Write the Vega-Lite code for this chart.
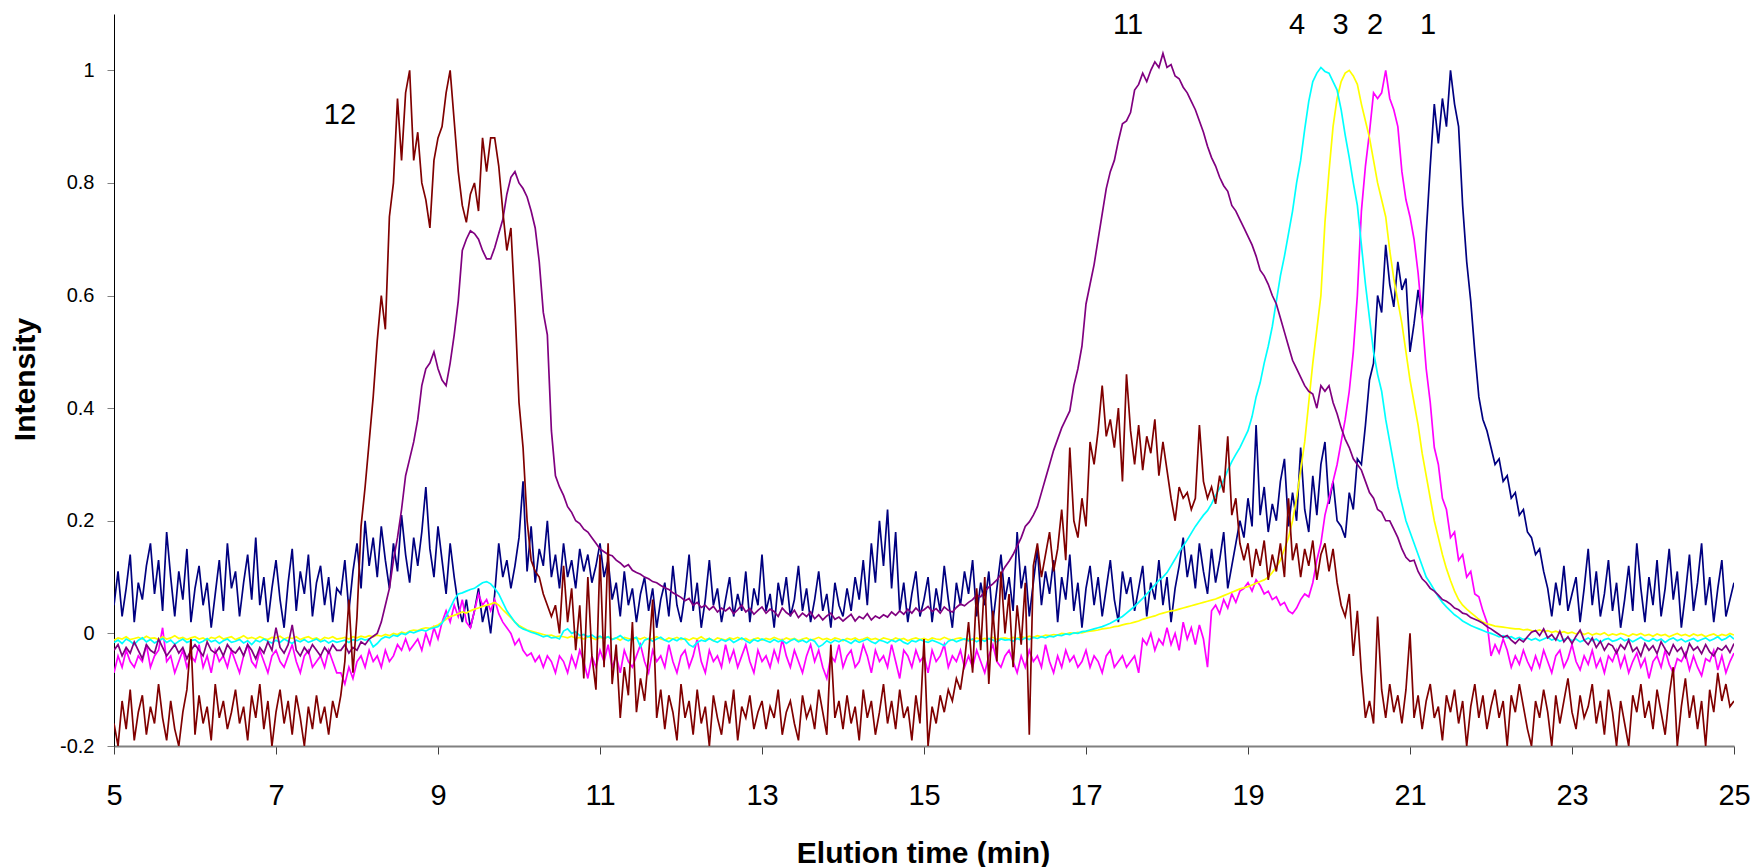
{
"$schema": "https://vega.github.io/schema/vega-lite/v6.json",
"width": 1620,
"height": 732,
"autosize": {"type": "none"},
"padding": {"left": 114, "top": 14, "right": 18, "bottom": 121},
"background": "#ffffff",
"config": {"view": {"stroke": null}, "font": "Liberation Sans", "axis": {"grid": false}},
"encoding": {
"x": {"field": "t", "type": "quantitative",
"scale": {"domain": [5, 25], "nice": false, "zero": false},
"axis": {"values": [5, 7, 9, 11, 13, 15, 17, 19, 21, 23, 25], "labelExpr": "'' + datum.value",
"title": "Elution time (min)", "titleFontSize": 30, "titleFontWeight": "bold", "titleColor": "#000000",
"titleAlign": "center", "titleBaseline": "alphabetic", "titleX": 809, "titleY": 116,
"labelFontSize": 29, "labelColor": "#000000", "labelBaseline": "alphabetic", "labelPadding": 50,
"labelFlush": false, "labelOverlap": false, "tickSize": 8, "tickColor": "#404040", "tickWidth": 1,
"domainColor": "#808080", "domainWidth": 2, "grid": false}},
"y": {"field": "v", "type": "quantitative",
"scale": {"domain": [-0.2, 1.1], "nice": false, "zero": false},
"axis": {"values": [-0.2, 0, 0.2, 0.4, 0.6, 0.8, 1], "labelExpr": "'' + datum.value",
"title": "Intensity", "titleFontSize": 30, "titleFontWeight": "bold", "titleColor": "#000000",
"titleAngle": 270, "titleAlign": "center", "titleBaseline": "alphabetic", "titleX": -80, "titleY": 365,
"labelFontSize": 20, "labelColor": "#000000", "labelPadding": 13, "labelFlush": false, "labelOverlap": false,
"tickSize": 7, "tickColor": "#808080", "tickWidth": 1, "domainColor": "#000000", "domainWidth": 1, "grid": false}}
},
"layer": [
{
"data": {"values": [
{"t":5.00,"a":0.05,"b":-0.07,"c":-0.012,"d":-0.016,"e":-0.03,"f":-0.16},
{"t":5.05,"a":0.11,"b":-0.04,"c":-0.008,"d":-0.012,"e":-0.02,"f":-0.2},
{"t":5.10,"a":0.03,"b":-0.06,"c":-0.01,"d":-0.018,"e":-0.04,"f":-0.12},
{"t":5.15,"a":0.08,"b":-0.03,"c":-0.006,"d":-0.01,"e":-0.025,"f":-0.17},
{"t":5.20,"a":0.14,"b":-0.05,"c":-0.011,"d":-0.014,"e":-0.035,"f":-0.1},
{"t":5.25,"a":0.02,"b":-0.06,"c":-0.009,"d":-0.02,"e":-0.015,"f":-0.19},
{"t":5.30,"a":0.09,"b":-0.04,"c":-0.007,"d":-0.012,"e":-0.03,"f":-0.14},
{"t":5.35,"a":0.06,"b":-0.05,"c":-0.01,"d":-0.008,"e":-0.045,"f":-0.11},
{"t":5.40,"a":0.12,"b":-0.02,"c":-0.005,"d":-0.015,"e":-0.02,"f":-0.18},
{"t":5.45,"a":0.16,"b":-0.06,"c":-0.009,"d":-0.011,"e":-0.03,"f":-0.13},
{"t":5.50,"a":0.07,"b":-0.04,"c":-0.008,"d":-0.017,"e":-0.035,"f":-0.16},
{"t":5.55,"a":0.13,"b":-0.03,"c":-0.011,"d":-0.013,"e":-0.01,"f":-0.09},
{"t":5.60,"a":0.04,"b":0.01,"c":-0.006,"d":-0.009,"e":-0.025,"f":-0.15},
{"t":5.65,"a":0.18,"b":-0.05,"c":-0.01,"d":-0.016,"e":-0.04,"f":-0.19},
{"t":5.70,"a":0.10,"b":-0.04,"c":-0.008,"d":-0.012,"e":-0.03,"f":-0.12},
{"t":5.75,"a":0.03,"b":-0.07,"c":-0.004,"d":-0.019,"e":-0.02,"f":-0.17},
{"t":5.80,"a":0.11,"b":-0.05,"c":-0.009,"d":-0.014,"e":-0.035,"f":-0.2},
{"t":5.85,"a":0.06,"b":-0.03,"c":-0.007,"d":-0.01,"e":-0.025,"f":-0.14},
{"t":5.90,"a":0.15,"b":-0.06,"c":-0.011,"d":-0.016,"e":-0.045,"f":-0.1},
{"t":5.95,"a":0.02,"b":-0.04,"c":-0.008,"d":-0.013,"e":-0.03,"f":-0.01},
{"t":6.00,"a":0.08,"b":-0.05,"c":-0.006,"d":-0.011,"e":-0.02,"f":-0.18},
{"t":6.05,"a":0.12,"b":-0.02,"c":-0.01,"d":-0.017,"e":-0.03,"f":-0.11},
{"t":6.10,"a":0.05,"b":-0.06,"c":-0.008,"d":-0.014,"e":-0.04,"f":-0.16},
{"t":6.15,"a":0.09,"b":-0.04,"c":-0.012,"d":-0.009,"e":-0.015,"f":-0.13},
{"t":6.20,"a":0.01,"b":-0.07,"c":-0.007,"d":-0.015,"e":-0.03,"f":-0.19},
{"t":6.25,"a":0.07,"b":-0.03,"c":-0.009,"d":-0.012,"e":-0.035,"f":-0.09},
{"t":6.30,"a":0.13,"b":-0.05,"c":-0.005,"d":-0.018,"e":-0.025,"f":-0.15},
{"t":6.35,"a":0.04,"b":-0.04,"c":-0.01,"d":-0.013,"e":-0.04,"f":-0.12},
{"t":6.40,"a":0.16,"b":-0.06,"c":-0.008,"d":-0.01,"e":-0.02,"f":-0.17},
{"t":6.45,"a":0.08,"b":-0.03,"c":-0.006,"d":-0.016,"e":-0.03,"f":-0.14},
{"t":6.50,"a":0.11,"b":-0.05,"c":-0.011,"d":-0.014,"e":-0.035,"f":-0.1},
{"t":6.55,"a":0.03,"b":-0.07,"c":-0.008,"d":-0.011,"e":-0.025,"f":-0.16},
{"t":6.60,"a":0.09,"b":-0.04,"c":-0.004,"d":-0.017,"e":-0.04,"f":-0.13},
{"t":6.65,"a":0.14,"b":-0.02,"c":-0.009,"d":-0.013,"e":-0.02,"f":-0.19},
{"t":6.70,"a":0.06,"b":-0.05,"c":-0.007,"d":-0.02,"e":-0.03,"f":-0.11},
{"t":6.75,"a":0.17,"b":-0.06,"c":-0.01,"d":-0.012,"e":-0.045,"f":-0.15},
{"t":6.80,"a":0.05,"b":-0.03,"c":-0.006,"d":-0.015,"e":-0.025,"f":-0.09},
{"t":6.85,"a":0.10,"b":-0.05,"c":-0.009,"d":-0.01,"e":-0.035,"f":-0.17},
{"t":6.90,"a":0.02,"b":-0.07,"c":-0.011,"d":-0.014,"e":-0.015,"f":-0.12},
{"t":6.95,"a":0.08,"b":-0.04,"c":-0.007,"d":-0.017,"e":-0.03,"f":-0.2},
{"t":7.00,"a":0.13,"b":-0.03,"c":-0.008,"d":-0.012,"e":0.01,"f":-0.14},
{"t":7.05,"a":0.06,"b":-0.05,"c":-0.005,"d":-0.016,"e":-0.025,"f":-0.1},
{"t":7.10,"a":0.01,"b":-0.06,"c":-0.01,"d":-0.01,"e":-0.035,"f":-0.16},
{"t":7.15,"a":0.09,"b":-0.04,"c":-0.007,"d":-0.014,"e":-0.02,"f":-0.12},
{"t":7.20,"a":0.15,"b":-0.02,"c":-0.009,"d":-0.018,"e":0.015,"f":-0.18},
{"t":7.25,"a":0.04,"b":-0.05,"c":-0.006,"d":-0.012,"e":-0.03,"f":-0.11},
{"t":7.30,"a":0.11,"b":-0.07,"c":-0.011,"d":-0.015,"e":-0.04,"f":-0.15},
{"t":7.35,"a":0.07,"b":-0.04,"c":-0.008,"d":-0.011,"e":-0.025,"f":-0.2},
{"t":7.40,"a":0.14,"b":-0.03,"c":-0.006,"d":-0.016,"e":-0.035,"f":-0.13},
{"t":7.45,"a":0.03,"b":-0.06,"c":-0.01,"d":-0.013,"e":-0.02,"f":-0.17},
{"t":7.50,"a":0.09,"b":-0.05,"c":-0.008,"d":-0.01,"e":-0.03,"f":-0.11},
{"t":7.55,"a":0.12,"b":-0.04,"c":-0.012,"d":-0.015,"e":-0.04,"f":-0.16},
{"t":7.60,"a":0.05,"b":-0.06,"c":-0.007,"d":-0.012,"e":-0.025,"f":-0.13},
{"t":7.65,"a":0.10,"b":-0.03,"c":-0.009,"d":-0.017,"e":-0.035,"f":-0.18},
{"t":7.70,"a":0.02,"b":-0.05,"c":-0.006,"d":-0.013,"e":-0.02,"f":-0.12},
{"t":7.75,"a":0.08,"b":-0.07,"c":-0.01,"d":-0.016,"e":-0.03,"f":-0.15},
{"t":7.80,"a":0.07,"b":-0.07,"c":-0.009,"d":-0.014,"e":-0.03,"f":-0.11},
{"t":7.85,"a":0.13,"b":-0.09,"c":-0.007,"d":-0.012,"e":-0.02,"f":-0.05},
{"t":7.90,"a":0.04,"b":-0.06,"c":-0.01,"d":-0.016,"e":-0.035,"f":0.06},
{"t":7.95,"a":0.11,"b":-0.08,"c":-0.006,"d":-0.011,"e":-0.025,"f":-0.07},
{"t":8.00,"a":0.16,"b":-0.05,"c":-0.008,"d":-0.013,"e":-0.03,"f":0.03},
{"t":8.05,"a":0.08,"b":-0.04,"c":-0.005,"d":-0.009,"e":-0.015,"f":0.19},
{"t":8.10,"a":0.2,"b":-0.06,"c":-0.007,"d":-0.012,"e":-0.02,"f":0.26},
{"t":8.15,"a":0.12,"b":-0.03,"c":-0.004,"d":-0.01,"e":-0.01,"f":0.34},
{"t":8.20,"a":0.17,"b":-0.05,"c":-0.006,"d":-0.024,"e":-0.005,"f":0.42},
{"t":8.25,"a":0.1,"b":-0.04,"c":-0.003,"d":-0.018,"e":0.0,"f":0.52},
{"t":8.30,"a":0.19,"b":-0.06,"c":-0.005,"d":-0.01,"e":0.02,"f":0.6},
{"t":8.35,"a":0.13,"b":-0.03,"c":-0.002,"d":-0.006,"e":0.05,"f":0.54},
{"t":8.40,"a":0.08,"b":-0.05,"c":-0.004,"d":-0.008,"e":0.08,"f":0.74},
{"t":8.45,"a":0.16,"b":-0.04,"c":0.0,"d":-0.003,"e":0.13,"f":0.8},
{"t":8.50,"a":0.11,"b":-0.02,"c":-0.002,"d":-0.005,"e":0.17,"f":0.95},
{"t":8.55,"a":0.21,"b":-0.03,"c":0.002,"d":0.0,"e":0.22,"f":0.84},
{"t":8.60,"a":0.14,"b":-0.01,"c":0.0,"d":-0.002,"e":0.28,"f":0.96},
{"t":8.65,"a":0.09,"b":-0.03,"c":0.004,"d":0.003,"e":0.31,"f":1.0},
{"t":8.70,"a":0.17,"b":-0.02,"c":0.006,"d":0.001,"e":0.34,"f":0.84},
{"t":8.75,"a":0.12,"b":-0.01,"c":0.005,"d":0.004,"e":0.38,"f":0.89},
{"t":8.80,"a":0.18,"b":-0.03,"c":0.008,"d":0.006,"e":0.44,"f":0.8},
{"t":8.85,"a":0.26,"b":0.0,"c":0.01,"d":0.004,"e":0.47,"f":0.77},
{"t":8.90,"a":0.15,"b":-0.02,"c":0.009,"d":0.008,"e":0.48,"f":0.72},
{"t":8.95,"a":0.1,"b":0.01,"c":0.012,"d":0.01,"e":0.5,"f":0.84},
{"t":9.00,"a":0.19,"b":-0.01,"c":0.015,"d":0.012,"e":0.47,"f":0.88},
{"t":9.05,"a":0.13,"b":0.02,"c":0.02,"d":0.018,"e":0.45,"f":0.9},
{"t":9.10,"a":0.07,"b":0.04,"c":0.025,"d":0.03,"e":0.44,"f":0.96},
{"t":9.15,"a":0.16,"b":0.02,"c":0.03,"d":0.045,"e":0.48,"f":1.0},
{"t":9.20,"a":0.1,"b":0.05,"c":0.032,"d":0.06,"e":0.53,"f":0.91},
{"t":9.25,"a":0.05,"b":0.03,"c":0.035,"d":0.07,"e":0.59,"f":0.82},
{"t":9.30,"a":0.02,"b":0.06,"c":0.038,"d":0.072,"e":0.68,"f":0.76},
{"t":9.35,"a":0.06,"b":0.02,"c":0.036,"d":0.075,"e":0.7,"f":0.73},
{"t":9.40,"a":0.01,"b":0.01,"c":0.04,"d":0.078,"e":0.715,"f":0.78},
{"t":9.45,"a":0.04,"b":0.04,"c":0.043,"d":0.08,"e":0.71,"f":0.8},
{"t":9.50,"a":0.08,"b":0.07,"c":0.045,"d":0.085,"e":0.7,"f":0.75},
{"t":9.55,"a":0.02,"b":0.05,"c":0.048,"d":0.09,"e":0.68,"f":0.88},
{"t":9.60,"a":0.05,"b":0.06,"c":0.05,"d":0.092,"e":0.665,"f":0.82},
{"t":9.65,"a":0.0,"b":0.04,"c":0.052,"d":0.088,"e":0.665,"f":0.88},
{"t":9.70,"a":0.07,"b":0.06,"c":0.055,"d":0.08,"e":0.685,"f":0.88},
{"t":9.75,"a":0.16,"b":0.035,"c":0.05,"d":0.07,"e":0.71,"f":0.83},
{"t":9.80,"a":0.1,"b":0.02,"c":0.042,"d":0.055,"e":0.735,"f":0.75},
{"t":9.85,"a":0.13,"b":0.01,"c":0.035,"d":0.04,"e":0.78,"f":0.68},
{"t":9.90,"a":0.08,"b":0.0,"c":0.028,"d":0.03,"e":0.81,"f":0.72},
{"t":9.95,"a":0.12,"b":-0.02,"c":0.02,"d":0.02,"e":0.82,"f":0.58},
{"t":10.00,"a":0.17,"b":-0.01,"c":0.014,"d":0.012,"e":0.8,"f":0.41},
{"t":10.05,"a":0.27,"b":-0.03,"c":0.01,"d":0.008,"e":0.79,"f":0.33},
{"t":10.10,"a":0.11,"b":-0.04,"c":0.006,"d":0.005,"e":0.775,"f":0.2},
{"t":10.15,"a":0.19,"b":-0.035,"c":0.004,"d":0.002,"e":0.75,"f":0.13},
{"t":10.20,"a":0.09,"b":-0.05,"c":0.002,"d":0.0,"e":0.72,"f":0.11},
{"t":10.25,"a":0.15,"b":-0.04,"c":0.0,"d":-0.003,"e":0.66,"f":0.1},
{"t":10.30,"a":0.12,"b":-0.06,"c":-0.002,"d":-0.006,"e":0.57,"f":0.07},
{"t":10.35,"a":0.2,"b":-0.04,"c":-0.004,"d":-0.004,"e":0.53,"f":0.05},
{"t":10.40,"a":0.1,"b":-0.05,"c":-0.003,"d":-0.008,"e":0.36,"f":0.03},
{"t":10.45,"a":0.14,"b":-0.07,"c":-0.006,"d":-0.007,"e":0.28,"f":0.05},
{"t":10.50,"a":0.08,"b":-0.04,"c":-0.005,"d":-0.01,"e":0.26,"f":0.0},
{"t":10.55,"a":0.16,"b":-0.05,"c":-0.006,"d":0.004,"e":0.245,"f":0.12},
{"t":10.60,"a":0.1,"b":-0.07,"c":-0.008,"d":0.008,"e":0.225,"f":0.02},
{"t":10.65,"a":0.13,"b":-0.04,"c":-0.005,"d":0.0,"e":0.215,"f":0.08},
{"t":10.70,"a":0.08,"b":-0.06,"c":-0.009,"d":0.003,"e":0.2,"f":-0.03},
{"t":10.75,"a":0.15,"b":-0.03,"c":-0.007,"d":-0.004,"e":0.195,"f":0.05},
{"t":10.80,"a":0.11,"b":-0.05,"c":-0.01,"d":-0.002,"e":0.185,"f":-0.08},
{"t":10.85,"a":0.14,"b":-0.08,"c":-0.006,"d":-0.006,"e":0.18,"f":0.1},
{"t":10.90,"a":0.09,"b":-0.04,"c":-0.008,"d":-0.003,"e":0.17,"f":-0.04},
{"t":10.95,"a":0.12,"b":-0.06,"c":-0.011,"d":-0.008,"e":0.16,"f":-0.1},
{"t":11.00,"a":0.16,"b":-0.03,"c":-0.007,"d":-0.005,"e":0.15,"f":0.14},
{"t":11.05,"a":0.1,"b":-0.05,"c":-0.009,"d":-0.009,"e":0.145,"f":-0.06},
{"t":11.10,"a":0.13,"b":-0.02,"c":-0.006,"d":-0.006,"e":0.14,"f":0.16},
{"t":11.15,"a":0.06,"b":-0.06,"c":-0.01,"d":-0.011,"e":0.138,"f":-0.09},
{"t":11.20,"a":0.09,"b":-0.04,"c":-0.008,"d":-0.008,"e":0.13,"f":-0.02},
{"t":11.25,"a":0.03,"b":-0.07,"c":-0.012,"d":-0.004,"e":0.125,"f":-0.15},
{"t":11.30,"a":0.11,"b":-0.03,"c":-0.007,"d":-0.01,"e":0.118,"f":-0.06},
{"t":11.35,"a":0.05,"b":-0.05,"c":-0.009,"d":-0.013,"e":0.122,"f":-0.11},
{"t":11.40,"a":0.08,"b":-0.06,"c":-0.011,"d":-0.009,"e":0.112,"f":0.02},
{"t":11.45,"a":0.02,"b":-0.04,"c":-0.008,"d":-0.007,"e":0.108,"f":-0.14},
{"t":11.50,"a":0.07,"b":-0.02,"c":-0.01,"d":-0.024,"e":0.105,"f":-0.08},
{"t":11.55,"a":0.1,"b":-0.05,"c":-0.007,"d":-0.012,"e":0.1,"f":-0.12},
{"t":11.60,"a":0.04,"b":-0.07,"c":-0.011,"d":-0.009,"e":0.097,"f":-0.04},
{"t":11.65,"a":0.08,"b":-0.03,"c":-0.009,"d":-0.014,"e":0.092,"f":0.06},
{"t":11.70,"a":0.01,"b":-0.05,"c":-0.006,"d":-0.01,"e":0.09,"f":-0.15},
{"t":11.75,"a":0.06,"b":-0.04,"c":-0.01,"d":-0.007,"e":0.085,"f":-0.1},
{"t":11.80,"a":0.09,"b":-0.06,"c":-0.012,"d":-0.012,"e":0.081,"f":-0.17},
{"t":11.85,"a":0.03,"b":-0.02,"c":-0.008,"d":-0.015,"e":0.078,"f":-0.11},
{"t":11.90,"a":0.12,"b":-0.05,"c":-0.01,"d":-0.01,"e":0.072,"f":-0.14},
{"t":11.95,"a":0.05,"b":-0.07,"c":-0.007,"d":-0.013,"e":0.068,"f":-0.19},
{"t":12.00,"a":0.02,"b":-0.04,"c":-0.011,"d":-0.008,"e":0.064,"f":-0.09},
{"t":12.05,"a":0.07,"b":-0.03,"c":-0.009,"d":-0.011,"e":0.058,"f":-0.15},
{"t":12.10,"a":0.14,"b":-0.06,"c":-0.012,"d":-0.02,"e":0.062,"f":-0.12},
{"t":12.15,"a":0.04,"b":-0.04,"c":-0.008,"d":-0.024,"e":0.05,"f":-0.18},
{"t":12.20,"a":0.09,"b":-0.01,"c":-0.01,"d":-0.016,"e":0.055,"f":-0.1},
{"t":12.25,"a":0.01,"b":-0.05,"c":-0.006,"d":-0.012,"e":0.046,"f":-0.16},
{"t":12.30,"a":0.06,"b":-0.07,"c":-0.011,"d":-0.014,"e":0.05,"f":-0.13},
{"t":12.35,"a":0.13,"b":-0.03,"c":-0.009,"d":-0.009,"e":0.042,"f":-0.2},
{"t":12.40,"a":0.05,"b":-0.05,"c":-0.013,"d":-0.013,"e":0.048,"f":-0.11},
{"t":12.45,"a":0.08,"b":-0.04,"c":-0.008,"d":-0.016,"e":0.038,"f":-0.15},
{"t":12.50,"a":0.02,"b":-0.06,"c":-0.01,"d":-0.011,"e":0.045,"f":-0.18},
{"t":12.55,"a":0.06,"b":-0.02,"c":-0.012,"d":-0.014,"e":0.04,"f":-0.12},
{"t":12.60,"a":0.1,"b":-0.05,"c":-0.008,"d":-0.01,"e":0.046,"f":-0.16},
{"t":12.65,"a":0.03,"b":-0.03,"c":-0.01,"d":-0.016,"e":0.035,"f":-0.1},
{"t":12.70,"a":0.07,"b":-0.06,"c":-0.007,"d":-0.012,"e":0.042,"f":-0.19},
{"t":12.75,"a":0.04,"b":-0.04,"c":-0.011,"d":-0.008,"e":0.05,"f":-0.13},
{"t":12.80,"a":0.11,"b":-0.02,"c":-0.009,"d":-0.013,"e":0.038,"f":-0.15},
{"t":12.85,"a":0.02,"b":-0.05,"c":-0.013,"d":-0.017,"e":0.044,"f":-0.11},
{"t":12.90,"a":0.08,"b":-0.07,"c":-0.01,"d":-0.011,"e":0.034,"f":-0.17},
{"t":12.95,"a":0.05,"b":-0.03,"c":-0.008,"d":-0.014,"e":0.041,"f":-0.14},
{"t":13.00,"a":0.14,"b":-0.05,"c":-0.012,"d":-0.01,"e":0.047,"f":-0.12},
{"t":13.05,"a":0.04,"b":-0.04,"c":-0.009,"d":-0.013,"e":0.036,"f":-0.17},
{"t":13.10,"a":0.07,"b":-0.06,"c":-0.011,"d":-0.016,"e":0.043,"f":-0.13},
{"t":13.15,"a":0.01,"b":-0.03,"c":-0.007,"d":-0.011,"e":0.039,"f":-0.15},
{"t":13.20,"a":0.09,"b":-0.05,"c":-0.01,"d":-0.015,"e":0.03,"f":-0.1},
{"t":13.25,"a":0.05,"b":-0.01,"c":-0.012,"d":-0.012,"e":0.045,"f":-0.18},
{"t":13.30,"a":0.1,"b":-0.04,"c":-0.008,"d":-0.018,"e":0.037,"f":-0.14},
{"t":13.35,"a":0.03,"b":-0.06,"c":-0.011,"d":-0.013,"e":0.032,"f":-0.12},
{"t":13.40,"a":0.06,"b":-0.03,"c":-0.009,"d":-0.01,"e":0.041,"f":-0.16},
{"t":13.45,"a":0.12,"b":-0.05,"c":-0.013,"d":-0.015,"e":0.028,"f":-0.19},
{"t":13.50,"a":0.04,"b":-0.07,"c":-0.01,"d":-0.012,"e":0.036,"f":-0.11},
{"t":13.55,"a":0.08,"b":-0.04,"c":-0.008,"d":-0.016,"e":0.03,"f":-0.15},
{"t":13.60,"a":0.02,"b":-0.02,"c":-0.012,"d":-0.011,"e":0.038,"f":-0.13},
{"t":13.65,"a":0.06,"b":-0.05,"c":-0.01,"d":-0.014,"e":0.026,"f":-0.17},
{"t":13.70,"a":0.11,"b":-0.03,"c":-0.007,"d":-0.024,"e":0.033,"f":-0.1},
{"t":13.75,"a":0.04,"b":-0.06,"c":-0.011,"d":-0.02,"e":0.024,"f":-0.14},
{"t":13.80,"a":0.07,"b":-0.08,"c":-0.009,"d":-0.013,"e":0.031,"f":-0.18},
{"t":13.85,"a":0.01,"b":-0.04,"c":-0.012,"d":-0.017,"e":0.036,"f":-0.02},
{"t":13.90,"a":0.09,"b":-0.05,"c":-0.008,"d":-0.012,"e":0.025,"f":-0.15},
{"t":13.95,"a":0.05,"b":-0.02,"c":-0.01,"d":-0.015,"e":0.029,"f":-0.12},
{"t":14.00,"a":0.03,"b":-0.06,"c":-0.013,"d":-0.011,"e":0.022,"f":-0.17},
{"t":14.05,"a":0.08,"b":-0.04,"c":-0.009,"d":-0.014,"e":0.028,"f":-0.11},
{"t":14.10,"a":0.04,"b":-0.03,"c":-0.011,"d":-0.018,"e":0.034,"f":-0.16},
{"t":14.15,"a":0.1,"b":-0.06,"c":-0.008,"d":-0.012,"e":0.022,"f":-0.13},
{"t":14.20,"a":0.06,"b":-0.05,"c":-0.012,"d":-0.016,"e":0.03,"f":-0.19},
{"t":14.25,"a":0.13,"b":-0.02,"c":-0.01,"d":-0.013,"e":0.026,"f":-0.1},
{"t":14.30,"a":0.05,"b":-0.04,"c":-0.007,"d":-0.01,"e":0.035,"f":-0.15},
{"t":14.35,"a":0.16,"b":-0.07,"c":-0.011,"d":-0.015,"e":0.024,"f":-0.12},
{"t":14.40,"a":0.09,"b":-0.03,"c":-0.009,"d":-0.018,"e":0.031,"f":-0.18},
{"t":14.45,"a":0.2,"b":-0.05,"c":-0.012,"d":-0.012,"e":0.027,"f":-0.14},
{"t":14.50,"a":0.12,"b":-0.04,"c":-0.008,"d":-0.014,"e":0.033,"f":-0.09},
{"t":14.55,"a":0.22,"b":-0.06,"c":-0.01,"d":-0.017,"e":0.029,"f":-0.16},
{"t":14.60,"a":0.08,"b":-0.02,"c":-0.012,"d":-0.012,"e":0.038,"f":-0.12},
{"t":14.65,"a":0.18,"b":-0.05,"c":-0.008,"d":-0.015,"e":0.032,"f":-0.17},
{"t":14.70,"a":0.04,"b":-0.08,"c":-0.011,"d":-0.011,"e":0.04,"f":-0.1},
{"t":14.75,"a":0.09,"b":-0.03,"c":-0.009,"d":-0.016,"e":0.034,"f":-0.15},
{"t":14.80,"a":0.02,"b":-0.04,"c":-0.013,"d":-0.019,"e":0.043,"f":-0.13},
{"t":14.85,"a":0.07,"b":-0.06,"c":-0.01,"d":-0.013,"e":0.036,"f":-0.19},
{"t":14.90,"a":0.11,"b":-0.03,"c":-0.008,"d":-0.015,"e":0.045,"f":-0.11},
{"t":14.95,"a":0.03,"b":-0.05,"c":-0.011,"d":-0.011,"e":0.038,"f":-0.16},
{"t":15.00,"a":0.06,"b":-0.04,"c":-0.009,"d":-0.014,"e":0.042,"f":-0.01},
{"t":15.05,"a":0.1,"b":-0.07,"c":-0.012,"d":-0.016,"e":0.048,"f":-0.2},
{"t":15.10,"a":0.02,"b":-0.03,"c":-0.008,"d":-0.012,"e":0.039,"f":-0.13},
{"t":15.15,"a":0.08,"b":-0.05,"c":-0.01,"d":-0.015,"e":0.044,"f":-0.16},
{"t":15.20,"a":0.04,"b":-0.04,"c":-0.011,"d":-0.018,"e":0.036,"f":-0.11},
{"t":15.25,"a":0.12,"b":-0.02,"c":-0.007,"d":-0.022,"e":0.047,"f":-0.14},
{"t":15.30,"a":0.06,"b":-0.06,"c":-0.01,"d":-0.014,"e":0.041,"f":-0.1},
{"t":15.35,"a":0.01,"b":-0.04,"c":-0.012,"d":-0.011,"e":0.038,"f":-0.12},
{"t":15.40,"a":0.09,"b":-0.05,"c":-0.009,"d":-0.015,"e":0.046,"f":-0.08},
{"t":15.45,"a":0.05,"b":-0.03,"c":-0.008,"d":-0.012,"e":0.052,"f":-0.1},
{"t":15.50,"a":0.11,"b":-0.06,"c":-0.011,"d":-0.01,"e":0.049,"f":-0.05},
{"t":15.55,"a":0.07,"b":-0.04,"c":-0.01,"d":-0.013,"e":0.055,"f":0.02},
{"t":15.60,"a":0.13,"b":-0.06,"c":-0.012,"d":-0.01,"e":0.06,"f":-0.07},
{"t":15.65,"a":0.03,"b":-0.03,"c":-0.008,"d":-0.015,"e":0.068,"f":0.08},
{"t":15.70,"a":0.09,"b":-0.05,"c":-0.011,"d":-0.011,"e":0.065,"f":-0.03},
{"t":15.75,"a":0.05,"b":-0.07,"c":-0.009,"d":-0.014,"e":0.075,"f":0.1},
{"t":15.80,"a":0.11,"b":-0.04,"c":-0.01,"d":-0.009,"e":0.082,"f":-0.09},
{"t":15.85,"a":0.02,"b":-0.02,"c":-0.007,"d":-0.012,"e":0.088,"f":0.04},
{"t":15.90,"a":0.08,"b":-0.05,"c":-0.011,"d":-0.015,"e":0.095,"f":-0.05},
{"t":15.95,"a":0.14,"b":-0.06,"c":-0.009,"d":-0.01,"e":0.105,"f":0.11},
{"t":16.00,"a":0.06,"b":-0.04,"c":-0.008,"d":-0.012,"e":0.118,"f":0.0},
{"t":16.05,"a":0.1,"b":-0.03,"c":-0.01,"d":-0.011,"e":0.128,"f":0.07},
{"t":16.10,"a":0.04,"b":-0.05,"c":-0.007,"d":-0.014,"e":0.14,"f":-0.06},
{"t":16.15,"a":0.18,"b":-0.07,"c":-0.009,"d":-0.009,"e":0.155,"f":0.05},
{"t":16.20,"a":0.08,"b":-0.04,"c":-0.006,"d":-0.012,"e":0.17,"f":-0.02},
{"t":16.25,"a":0.12,"b":-0.06,"c":-0.008,"d":-0.008,"e":0.19,"f":0.09},
{"t":16.30,"a":0.03,"b":-0.03,"c":-0.005,"d":-0.011,"e":0.198,"f":-0.18},
{"t":16.35,"a":0.09,"b":-0.05,"c":-0.007,"d":-0.007,"e":0.21,"f":0.12},
{"t":16.40,"a":0.15,"b":-0.04,"c":-0.004,"d":-0.009,"e":0.225,"f":0.16},
{"t":16.45,"a":0.05,"b":-0.06,"c":-0.006,"d":-0.006,"e":0.25,"f":0.1},
{"t":16.50,"a":0.11,"b":-0.02,"c":-0.003,"d":-0.008,"e":0.275,"f":0.14},
{"t":16.55,"a":0.07,"b":-0.05,"c":-0.004,"d":-0.005,"e":0.3,"f":0.18},
{"t":16.60,"a":0.13,"b":-0.07,"c":-0.002,"d":-0.006,"e":0.325,"f":0.11},
{"t":16.65,"a":0.02,"b":-0.04,"c":-0.003,"d":-0.003,"e":0.345,"f":0.15},
{"t":16.70,"a":0.1,"b":-0.06,"c":0.0,"d":-0.004,"e":0.365,"f":0.22},
{"t":16.75,"a":0.06,"b":-0.03,"c":-0.001,"d":-0.001,"e":0.38,"f":0.13},
{"t":16.80,"a":0.14,"b":-0.05,"c":0.001,"d":-0.002,"e":0.395,"f":0.33},
{"t":16.85,"a":0.04,"b":-0.04,"c":0.0,"d":0.001,"e":0.44,"f":0.2},
{"t":16.90,"a":0.09,"b":-0.06,"c":0.002,"d":0.0,"e":0.47,"f":0.17},
{"t":16.95,"a":0.01,"b":-0.05,"c":0.001,"d":0.003,"e":0.51,"f":0.24},
{"t":17.00,"a":0.08,"b":-0.03,"c":0.003,"d":0.004,"e":0.585,"f":0.19},
{"t":17.05,"a":0.12,"b":-0.06,"c":0.004,"d":0.006,"e":0.62,"f":0.34},
{"t":17.10,"a":0.05,"b":-0.04,"c":0.005,"d":0.008,"e":0.655,"f":0.3},
{"t":17.15,"a":0.1,"b":-0.05,"c":0.006,"d":0.01,"e":0.7,"f":0.36},
{"t":17.20,"a":0.03,"b":-0.07,"c":0.008,"d":0.012,"e":0.745,"f":0.44},
{"t":17.25,"a":0.08,"b":-0.04,"c":0.009,"d":0.015,"e":0.79,"f":0.35},
{"t":17.30,"a":0.13,"b":-0.03,"c":0.01,"d":0.018,"e":0.82,"f":0.38},
{"t":17.35,"a":0.06,"b":-0.06,"c":0.012,"d":0.022,"e":0.84,"f":0.33},
{"t":17.40,"a":0.02,"b":-0.05,"c":0.013,"d":0.026,"e":0.875,"f":0.4},
{"t":17.45,"a":0.11,"b":-0.04,"c":0.015,"d":0.03,"e":0.905,"f":0.27},
{"t":17.50,"a":0.07,"b":-0.06,"c":0.017,"d":0.036,"e":0.91,"f":0.46},
{"t":17.55,"a":0.1,"b":-0.05,"c":0.018,"d":0.042,"e":0.925,"f":0.36},
{"t":17.60,"a":0.04,"b":-0.04,"c":0.02,"d":0.048,"e":0.965,"f":0.3},
{"t":17.65,"a":0.08,"b":-0.07,"c":0.022,"d":0.055,"e":0.975,"f":0.37},
{"t":17.70,"a":0.12,"b":-0.01,"c":0.025,"d":0.062,"e":0.995,"f":0.29},
{"t":17.75,"a":0.03,"b":-0.02,"c":0.027,"d":0.07,"e":0.98,"f":0.35},
{"t":17.80,"a":0.09,"b":0.0,"c":0.029,"d":0.078,"e":1.0,"f":0.32},
{"t":17.85,"a":0.06,"b":-0.03,"c":0.031,"d":0.086,"e":1.015,"f":0.38},
{"t":17.90,"a":0.13,"b":-0.01,"c":0.034,"d":0.094,"e":1.005,"f":0.28},
{"t":17.95,"a":0.05,"b":-0.02,"c":0.036,"d":0.1,"e":1.03,"f":0.34},
{"t":18.00,"a":0.1,"b":0.01,"c":0.038,"d":0.108,"e":1.005,"f":0.29},
{"t":18.05,"a":0.02,"b":-0.02,"c":0.04,"d":0.12,"e":1.01,"f":0.24},
{"t":18.10,"a":0.08,"b":0.0,"c":0.041,"d":0.132,"e":0.99,"f":0.2},
{"t":18.15,"a":0.12,"b":-0.03,"c":0.043,"d":0.145,"e":0.985,"f":0.26},
{"t":18.20,"a":0.17,"b":0.02,"c":0.045,"d":0.155,"e":0.97,"f":0.24},
{"t":18.25,"a":0.1,"b":-0.01,"c":0.047,"d":0.166,"e":0.96,"f":0.25},
{"t":18.30,"a":0.14,"b":0.01,"c":0.049,"d":0.178,"e":0.945,"f":0.22},
{"t":18.35,"a":0.08,"b":-0.02,"c":0.051,"d":0.19,"e":0.93,"f":0.24},
{"t":18.40,"a":0.16,"b":0.015,"c":0.053,"d":0.2,"e":0.91,"f":0.37},
{"t":18.45,"a":0.11,"b":-0.01,"c":0.055,"d":0.21,"e":0.89,"f":0.27},
{"t":18.50,"a":0.07,"b":-0.06,"c":0.057,"d":0.218,"e":0.865,"f":0.24},
{"t":18.55,"a":0.15,"b":0.04,"c":0.059,"d":0.23,"e":0.845,"f":0.26},
{"t":18.60,"a":0.09,"b":0.05,"c":0.061,"d":0.245,"e":0.83,"f":0.23},
{"t":18.65,"a":0.13,"b":0.035,"c":0.064,"d":0.258,"e":0.81,"f":0.28},
{"t":18.70,"a":0.18,"b":0.06,"c":0.067,"d":0.272,"e":0.795,"f":0.25},
{"t":18.75,"a":0.08,"b":0.045,"c":0.07,"d":0.29,"e":0.785,"f":0.35},
{"t":18.80,"a":0.12,"b":0.07,"c":0.073,"d":0.305,"e":0.76,"f":0.21},
{"t":18.85,"a":0.16,"b":0.055,"c":0.076,"d":0.318,"e":0.75,"f":0.24},
{"t":18.90,"a":0.2,"b":0.075,"c":0.079,"d":0.33,"e":0.735,"f":0.16},
{"t":18.95,"a":0.17,"b":0.08,"c":0.081,"d":0.345,"e":0.72,"f":0.13},
{"t":19.00,"a":0.24,"b":0.09,"c":0.083,"d":0.36,"e":0.705,"f":0.16},
{"t":19.05,"a":0.19,"b":0.075,"c":0.086,"d":0.385,"e":0.69,"f":0.1},
{"t":19.10,"a":0.37,"b":0.095,"c":0.089,"d":0.42,"e":0.67,"f":0.15},
{"t":19.15,"a":0.21,"b":0.085,"c":0.092,"d":0.445,"e":0.645,"f":0.12},
{"t":19.20,"a":0.26,"b":0.07,"c":0.095,"d":0.48,"e":0.635,"f":0.165},
{"t":19.25,"a":0.18,"b":0.075,"c":0.1,"d":0.51,"e":0.62,"f":0.095},
{"t":19.30,"a":0.23,"b":0.06,"c":0.108,"d":0.545,"e":0.6,"f":0.14},
{"t":19.35,"a":0.2,"b":0.065,"c":0.118,"d":0.59,"e":0.585,"f":0.11},
{"t":19.40,"a":0.27,"b":0.05,"c":0.13,"d":0.635,"e":0.56,"f":0.16},
{"t":19.45,"a":0.31,"b":0.055,"c":0.15,"d":0.67,"e":0.535,"f":0.1},
{"t":19.50,"a":0.19,"b":0.04,"c":0.17,"d":0.71,"e":0.51,"f":0.24},
{"t":19.55,"a":0.25,"b":0.035,"c":0.2,"d":0.75,"e":0.485,"f":0.13},
{"t":19.60,"a":0.2,"b":0.045,"c":0.24,"d":0.8,"e":0.47,"f":0.16},
{"t":19.65,"a":0.33,"b":0.06,"c":0.29,"d":0.84,"e":0.455,"f":0.1},
{"t":19.70,"a":0.22,"b":0.07,"c":0.34,"d":0.895,"e":0.44,"f":0.15},
{"t":19.75,"a":0.18,"b":0.065,"c":0.41,"d":0.945,"e":0.43,"f":0.12},
{"t":19.80,"a":0.28,"b":0.09,"c":0.48,"d":0.98,"e":0.425,"f":0.165},
{"t":19.85,"a":0.21,"b":0.13,"c":0.54,"d":0.995,"e":0.4,"f":0.095},
{"t":19.90,"a":0.3,"b":0.16,"c":0.6,"d":1.005,"e":0.44,"f":0.14},
{"t":19.95,"a":0.34,"b":0.21,"c":0.73,"d":0.998,"e":0.43,"f":0.16},
{"t":20.00,"a":0.23,"b":0.24,"c":0.82,"d":0.995,"e":0.44,"f":0.11},
{"t":20.05,"a":0.27,"b":0.27,"c":0.9,"d":0.98,"e":0.41,"f":0.15},
{"t":20.10,"a":0.2,"b":0.3,"c":0.95,"d":0.965,"e":0.39,"f":0.09},
{"t":20.15,"a":0.19,"b":0.34,"c":0.98,"d":0.93,"e":0.365,"f":0.05},
{"t":20.20,"a":0.17,"b":0.38,"c":0.995,"d":0.885,"e":0.345,"f":0.03},
{"t":20.25,"a":0.25,"b":0.43,"c":1.0,"d":0.845,"e":0.33,"f":0.07},
{"t":20.30,"a":0.22,"b":0.5,"c":0.99,"d":0.8,"e":0.31,"f":-0.04},
{"t":20.35,"a":0.31,"b":0.6,"c":0.975,"d":0.76,"e":0.3,"f":0.04},
{"t":20.40,"a":0.3,"b":0.75,"c":0.94,"d":0.69,"e":0.29,"f":-0.07},
{"t":20.45,"a":0.37,"b":0.83,"c":0.91,"d":0.62,"e":0.27,"f":-0.15},
{"t":20.50,"a":0.45,"b":0.89,"c":0.88,"d":0.56,"e":0.25,"f":-0.12},
{"t":20.55,"a":0.48,"b":0.96,"c":0.84,"d":0.5,"e":0.24,"f":-0.16},
{"t":20.60,"a":0.6,"b":0.95,"c":0.8,"d":0.46,"e":0.22,"f":0.03},
{"t":20.65,"a":0.57,"b":0.96,"c":0.77,"d":0.43,"e":0.215,"f":-0.1},
{"t":20.70,"a":0.69,"b":1.0,"c":0.74,"d":0.38,"e":0.2,"f":-0.15},
{"t":20.75,"a":0.62,"b":0.95,"c":0.68,"d":0.34,"e":0.2,"f":-0.09},
{"t":20.80,"a":0.58,"b":0.93,"c":0.63,"d":0.3,"e":0.185,"f":-0.14},
{"t":20.85,"a":0.66,"b":0.9,"c":0.59,"d":0.26,"e":0.17,"f":-0.11},
{"t":20.90,"a":0.61,"b":0.82,"c":0.55,"d":0.23,"e":0.15,"f":-0.16},
{"t":20.95,"a":0.63,"b":0.77,"c":0.5,"d":0.2,"e":0.135,"f":-0.1},
{"t":21.00,"a":0.5,"b":0.74,"c":0.45,"d":0.18,"e":0.128,"f":0.0},
{"t":21.05,"a":0.55,"b":0.7,"c":0.41,"d":0.16,"e":0.13,"f":-0.15},
{"t":21.10,"a":0.61,"b":0.64,"c":0.37,"d":0.14,"e":0.11,"f":-0.11},
{"t":21.15,"a":0.56,"b":0.56,"c":0.32,"d":0.12,"e":0.097,"f":-0.17},
{"t":21.20,"a":0.71,"b":0.47,"c":0.28,"d":0.1,"e":0.09,"f":-0.12},
{"t":21.25,"a":0.83,"b":0.41,"c":0.24,"d":0.089,"e":0.08,"f":-0.09},
{"t":21.30,"a":0.94,"b":0.33,"c":0.2,"d":0.077,"e":0.075,"f":-0.15},
{"t":21.35,"a":0.87,"b":0.3,"c":0.17,"d":0.065,"e":0.068,"f":-0.13},
{"t":21.40,"a":0.95,"b":0.24,"c":0.14,"d":0.055,"e":0.06,"f":-0.19},
{"t":21.45,"a":0.9,"b":0.22,"c":0.115,"d":0.047,"e":0.057,"f":-0.11},
{"t":21.50,"a":1.0,"b":0.17,"c":0.094,"d":0.04,"e":0.052,"f":-0.14},
{"t":21.55,"a":0.94,"b":0.18,"c":0.075,"d":0.033,"e":0.045,"f":-0.1},
{"t":21.60,"a":0.9,"b":0.13,"c":0.06,"d":0.028,"e":0.042,"f":-0.16},
{"t":21.65,"a":0.76,"b":0.14,"c":0.05,"d":0.022,"e":0.036,"f":-0.12},
{"t":21.70,"a":0.66,"b":0.1,"c":0.043,"d":0.018,"e":0.034,"f":-0.2},
{"t":21.75,"a":0.59,"b":0.11,"c":0.037,"d":0.014,"e":0.028,"f":-0.13},
{"t":21.80,"a":0.5,"b":0.07,"c":0.031,"d":0.011,"e":0.025,"f":-0.09},
{"t":21.85,"a":0.42,"b":0.065,"c":0.025,"d":0.008,"e":0.022,"f":-0.15},
{"t":21.90,"a":0.38,"b":0.04,"c":0.02,"d":0.005,"e":0.018,"f":-0.11},
{"t":21.95,"a":0.36,"b":0.02,"c":0.017,"d":0.002,"e":0.012,"f":-0.17},
{"t":22.00,"a":0.33,"b":-0.04,"c":0.015,"d":0.0,"e":0.008,"f":-0.13},
{"t":22.05,"a":0.3,"b":-0.02,"c":0.013,"d":-0.003,"e":0.003,"f":-0.1},
{"t":22.10,"a":0.31,"b":-0.035,"c":0.012,"d":-0.006,"e":-0.002,"f":-0.15},
{"t":22.15,"a":0.27,"b":-0.01,"c":0.011,"d":-0.004,"e":-0.007,"f":-0.12},
{"t":22.20,"a":0.28,"b":-0.03,"c":0.01,"d":-0.008,"e":-0.004,"f":-0.2},
{"t":22.25,"a":0.24,"b":-0.06,"c":0.009,"d":-0.006,"e":-0.012,"f":-0.11},
{"t":22.30,"a":0.25,"b":-0.04,"c":0.008,"d":-0.01,"e":-0.018,"f":-0.14},
{"t":22.35,"a":0.21,"b":-0.055,"c":0.008,"d":-0.007,"e":-0.01,"f":-0.09},
{"t":22.40,"a":0.22,"b":-0.03,"c":0.006,"d":-0.011,"e":-0.015,"f":-0.13},
{"t":22.45,"a":0.18,"b":-0.05,"c":0.007,"d":-0.008,"e":-0.006,"f":-0.17},
{"t":22.50,"a":0.17,"b":-0.065,"c":0.005,"d":-0.012,"e":0.002,"f":-0.2},
{"t":22.55,"a":0.14,"b":-0.04,"c":0.004,"d":-0.009,"e":0.005,"f":-0.12},
{"t":22.60,"a":0.15,"b":-0.06,"c":0.006,"d":-0.013,"e":-0.004,"f":-0.15},
{"t":22.65,"a":0.11,"b":-0.03,"c":0.003,"d":-0.01,"e":0.008,"f":-0.1},
{"t":22.70,"a":0.08,"b":-0.05,"c":0.005,"d":-0.007,"e":-0.008,"f":-0.14},
{"t":22.75,"a":0.03,"b":-0.07,"c":0.002,"d":-0.012,"e":-0.002,"f":-0.2},
{"t":22.80,"a":0.09,"b":-0.04,"c":0.004,"d":-0.009,"e":-0.012,"f":-0.11},
{"t":22.85,"a":0.05,"b":-0.03,"c":0.001,"d":-0.014,"e":0.004,"f":-0.16},
{"t":22.90,"a":0.12,"b":-0.06,"c":0.003,"d":-0.011,"e":-0.015,"f":-0.12},
{"t":22.95,"a":0.04,"b":-0.045,"c":0.0,"d":-0.008,"e":-0.006,"f":-0.08},
{"t":23.00,"a":0.07,"b":-0.02,"c":0.002,"d":-0.013,"e":-0.018,"f":-0.14},
{"t":23.05,"a":0.1,"b":-0.05,"c":-0.001,"d":-0.01,"e":-0.005,"f":-0.17},
{"t":23.10,"a":0.02,"b":-0.065,"c":0.002,"d":-0.015,"e":0.006,"f":-0.11},
{"t":23.15,"a":0.08,"b":-0.04,"c":-0.002,"d":-0.012,"e":-0.012,"f":-0.15},
{"t":23.20,"a":0.15,"b":-0.055,"c":0.001,"d":-0.008,"e":-0.02,"f":-0.13},
{"t":23.25,"a":0.05,"b":-0.03,"c":-0.003,"d":-0.013,"e":-0.008,"f":-0.09},
{"t":23.30,"a":0.11,"b":-0.06,"c":0.0,"d":-0.01,"e":-0.025,"f":-0.16},
{"t":23.35,"a":0.03,"b":-0.045,"c":-0.002,"d":-0.016,"e":-0.014,"f":-0.12},
{"t":23.40,"a":0.07,"b":-0.07,"c":0.001,"d":-0.011,"e":-0.03,"f":-0.18},
{"t":23.45,"a":0.13,"b":-0.04,"c":-0.004,"d":-0.009,"e":-0.018,"f":-0.1},
{"t":23.50,"a":0.04,"b":-0.05,"c":-0.001,"d":-0.014,"e":-0.022,"f":-0.14},
{"t":23.55,"a":0.09,"b":-0.03,"c":-0.003,"d":-0.012,"e":-0.035,"f":-0.2},
{"t":23.60,"a":0.01,"b":-0.06,"c":0.0,"d":-0.008,"e":-0.02,"f":-0.12},
{"t":23.65,"a":0.06,"b":-0.04,"c":-0.002,"d":-0.013,"e":-0.028,"f":-0.16},
{"t":23.70,"a":0.12,"b":-0.07,"c":-0.005,"d":-0.01,"e":-0.012,"f":-0.2},
{"t":23.75,"a":0.04,"b":-0.05,"c":-0.001,"d":-0.015,"e":-0.032,"f":-0.11},
{"t":23.80,"a":0.16,"b":-0.035,"c":-0.003,"d":-0.011,"e":-0.025,"f":-0.14},
{"t":23.85,"a":0.08,"b":-0.06,"c":0.0,"d":-0.007,"e":-0.04,"f":-0.09},
{"t":23.90,"a":0.02,"b":-0.045,"c":-0.004,"d":-0.012,"e":-0.018,"f":-0.15},
{"t":23.95,"a":0.1,"b":-0.08,"c":-0.002,"d":-0.014,"e":-0.03,"f":-0.12},
{"t":24.00,"a":0.05,"b":-0.05,"c":-0.005,"d":-0.009,"e":-0.022,"f":-0.17},
{"t":24.05,"a":0.13,"b":-0.04,"c":-0.001,"d":-0.013,"e":-0.036,"f":-0.1},
{"t":24.10,"a":0.03,"b":-0.06,"c":-0.004,"d":-0.01,"e":-0.015,"f":-0.14},
{"t":24.15,"a":0.08,"b":-0.03,"c":-0.002,"d":-0.016,"e":-0.028,"f":-0.18},
{"t":24.20,"a":0.15,"b":-0.055,"c":-0.006,"d":-0.011,"e":-0.038,"f":-0.11},
{"t":24.25,"a":0.06,"b":-0.07,"c":-0.003,"d":-0.008,"e":-0.02,"f":-0.06},
{"t":24.30,"a":0.11,"b":-0.045,"c":0.0,"d":-0.013,"e":-0.032,"f":-0.2},
{"t":24.35,"a":0.01,"b":-0.05,"c":-0.004,"d":-0.01,"e":-0.025,"f":-0.13},
{"t":24.40,"a":0.07,"b":-0.035,"c":-0.002,"d":-0.015,"e":-0.042,"f":-0.08},
{"t":24.45,"a":0.14,"b":-0.065,"c":-0.005,"d":-0.012,"e":-0.018,"f":-0.15},
{"t":24.50,"a":0.04,"b":-0.04,"c":-0.001,"d":-0.009,"e":-0.03,"f":-0.11},
{"t":24.55,"a":0.09,"b":-0.06,"c":-0.004,"d":-0.014,"e":-0.024,"f":-0.17},
{"t":24.60,"a":0.16,"b":-0.075,"c":-0.002,"d":-0.011,"e":-0.036,"f":-0.12},
{"t":24.65,"a":0.05,"b":-0.045,"c":-0.006,"d":-0.008,"e":-0.02,"f":-0.2},
{"t":24.70,"a":0.1,"b":-0.05,"c":-0.003,"d":-0.013,"e":-0.033,"f":-0.1},
{"t":24.75,"a":0.02,"b":-0.03,"c":-0.001,"d":-0.01,"e":-0.04,"f":-0.14},
{"t":24.80,"a":0.08,"b":-0.065,"c":-0.005,"d":-0.006,"e":-0.026,"f":-0.07},
{"t":24.85,"a":0.13,"b":-0.04,"c":-0.002,"d":-0.012,"e":-0.03,"f":-0.12},
{"t":24.90,"a":0.03,"b":-0.07,"c":-0.004,"d":-0.009,"e":-0.022,"f":-0.09},
{"t":24.95,"a":0.06,"b":-0.05,"c":0.0,"d":-0.004,"e":-0.034,"f":-0.13},
{"t":25.00,"a":0.09,"b":-0.035,"c":-0.003,"d":-0.01,"e":-0.018,"f":-0.12}
]},
"transform": [{"fold": ["a", "b", "c", "d", "e", "f"], "as": ["s", "v"]}],
"mark": {"type": "line", "strokeWidth": 1.7, "clip": true},
"encoding": {
"color": {"field": "s", "type": "nominal",
"scale": {"domain": ["a", "b", "c", "d", "e", "f"], "range": ["#000080", "#FF00FF", "#FFFF00", "#00FFFF", "#800080", "#800000"]},
"legend": null}
}
},
{
"data": {"values": [
{"t": 7.79, "v": 0.92, "label": "12"},
{"t": 17.52, "v": 1.08, "label": "11"},
{"t": 19.605, "v": 1.08, "label": "4"},
{"t": 20.144, "v": 1.08, "label": "3"},
{"t": 20.568, "v": 1.08, "label": "2"},
{"t": 21.222, "v": 1.08, "label": "1"}
]},
"mark": {"type": "text", "fontSize": 29, "color": "#000000", "align": "center", "baseline": "middle"},
"encoding": {
"text": {"field": "label"}
}
}
]
}
